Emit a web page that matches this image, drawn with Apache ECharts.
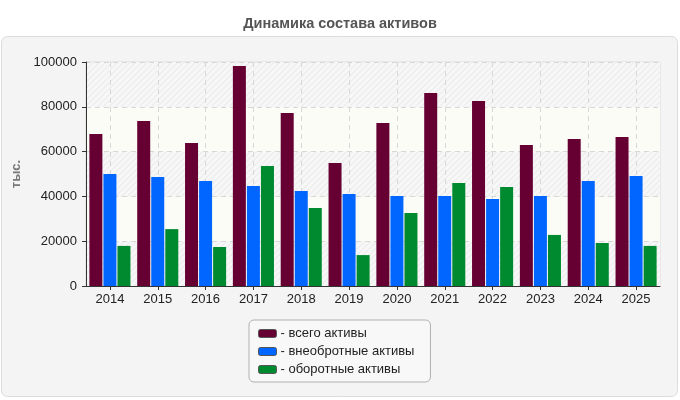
<!DOCTYPE html>
<html>
<head>
<meta charset="utf-8">
<script src="https://cdn.jsdelivr.net/npm/echarts@6/dist/echarts.min.js"></script>
<style>
  html, body { margin: 0; padding: 0; background: #fff; }
  #chart { width: 680px; height: 400px; }
</style>
</head>
<body>
<div id="chart"></div>
<script>
  // данные с картинки
  const years = ['2014', '2015', '2016', '2017', '2018', '2019', '2020', '2021', '2022', '2023', '2024', '2025']
  const totalAssets = [67900, 73700, 63800, 98200, 77200, 54900, 72800, 86200, 82600, 63000, 65600, 66500]
  const fixedAssets = [50000, 48700, 46900, 44600, 42400, 41100, 40200, 40200, 38800, 40200, 46900, 49100]
  const currentAssets = [17900, 25400, 17400, 53600, 34800, 13800, 32600, 46000, 44200, 22800, 19200, 17900]
  const yTicks = [0, 20000, 40000, 60000, 80000, 100000]

  // штриховка для полос фона
  function hatch () {
    const c = document.createElement('canvas')
    c.width = 6
    c.height = 6
    const ctx = c.getContext('2d')
    ctx.fillStyle = '#f7f7f7'
    ctx.fillRect(0, 0, 6, 6)
    ctx.strokeStyle = '#ececec'
    ctx.lineWidth = 1.2
    ctx.beginPath()
    ctx.moveTo(0, 6); ctx.lineTo(6, 0)
    ctx.moveTo(-3, 3); ctx.lineTo(3, -3)
    ctx.moveTo(3, 9); ctx.lineTo(9, 3)
    ctx.stroke()
    return c
  }

  const myChart = echarts.init(document.getElementById('chart'))
  const font = '"Liberation Sans", Arial, sans-serif'

  let option = {
    backgroundColor: '#fff',
    animation: false,
    textStyle: { fontFamily: font },
    graphic: [{
      type: 'rect',
      z: -10,
      shape: { x: 1.5, y: 36.5, width: 676, height: 360, r: 6 },
      style: { fill: '#f4f4f4', stroke: '#dcdcdc', lineWidth: 1 }
    }],
    title: {
      text: 'Динамика состава активов',
      left: 'center',
      top: 11,
      textStyle: { fontFamily: font, fontSize: 14.5, fontWeight: 'bold', color: '#555' }
    },
    legend: {
      orient: 'vertical',
      left: 249,
      top: 320,
      padding: [7, 16, 6, 9],
      itemGap: 5,
      itemWidth: 18,
      itemHeight: 8,
      icon: 'roundRect',
      backgroundColor: '#f8f8f8',
      borderColor: '#b0b0b0',
      borderWidth: 1,
      borderRadius: 5,
      itemStyle: { borderColor: '#555', borderWidth: 1 },
      formatter: name => '- ' + name,
      textStyle: { fontFamily: font, fontSize: 13, color: '#222', lineHeight: 13, padding: [0, 0, 0, -1] }
    },
    grid: {
      left: 86,
      right: 20,
      top: 62,
      bottom: 114,
      show: true,
      borderColor: '#dcdcdc',
      borderWidth: 1,
      backgroundColor: 'transparent'
    },
    xAxis: {
      type: 'category',
      data: years,
      axisLine: { lineStyle: { color: '#333', width: 1 } },
      axisTick: { show: true, alignWithLabel: true, length: 4, lineStyle: { color: '#333' } },
      axisLabel: { color: '#222', fontSize: 13, margin: 7, fontFamily: font },
      splitLine: {
        show: true,
        alignWithLabel: true,
        lineStyle: { color: '#d8d8d8', type: [5, 4] }
      }
    },
    yAxis: {
      type: 'value',
      min: yTicks[0],
      max: yTicks[yTicks.length - 1],
      interval: 20000,
      name: 'тыс.',
      nameLocation: 'middle',
      nameGap: 50,
      nameRotate: 90,
      nameTextStyle: { fontFamily: font, fontSize: 13, fontWeight: 'bold', color: '#777' },
      axisLine: { show: true, lineStyle: { color: '#333', width: 1 } },
      axisTick: { show: true, length: 4, lineStyle: { color: '#333' } },
      axisLabel: { color: '#222', fontSize: 13, margin: 9, fontFamily: font, formatter: v => String(v) },
      splitLine: { show: true, lineStyle: { color: '#d8d8d8', type: [5, 4] } },
      splitArea: {
        show: true,
        areaStyle: { color: [{ image: hatch(), repeat: 'repeat' }, '#fcfcf7'] }
      }
    },
    color: ['#660033', '#0066ff', '#008a30'],
    series: [{
      name: 'всего активы',
      type: 'bar',
      barWidth: 13,
      barGap: '8%',
      data: totalAssets
    }, {
      name: 'внеобротные активы',
      type: 'bar',
      barWidth: 13,
      barGap: '8%',
      data: fixedAssets
    }, {
      name: 'оборотные активы',
      type: 'bar',
      barWidth: 13,
      barGap: '8%',
      data: currentAssets
    }]
  }
  myChart.setOption(option)
</script>
</body>
</html>
